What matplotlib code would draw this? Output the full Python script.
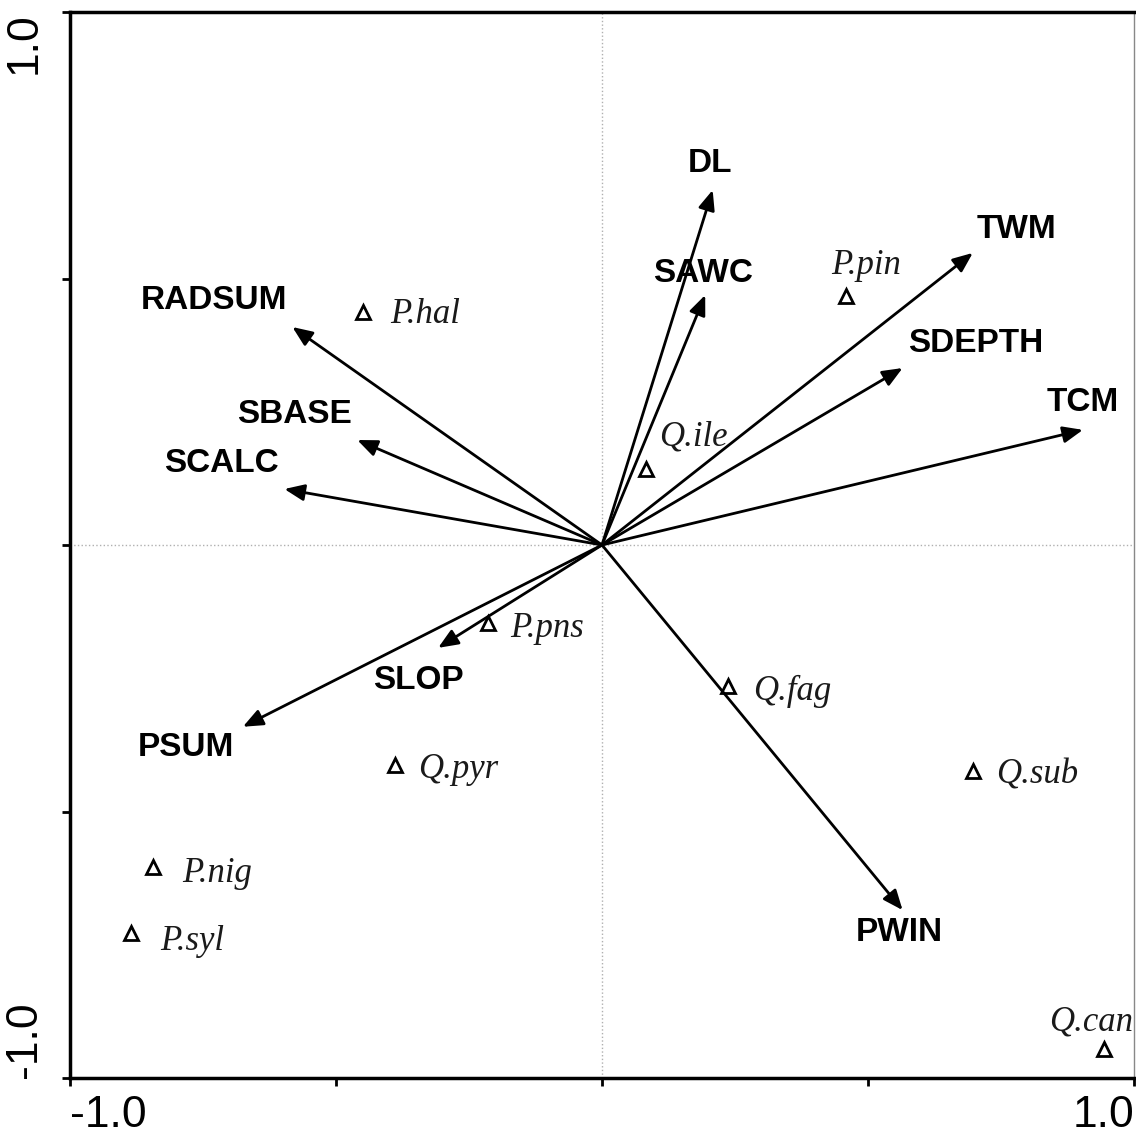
import matplotlib
matplotlib.use("Agg")
import matplotlib.pyplot as plt

# environmental variables (arrow tips)
env_names = ["DL", "SAWC", "TWM", "SDEPTH", "TCM", "PWIN",
             "RADSUM", "SBASE", "SCALC", "SLOP", "PSUM"]
env_x = [0.208, 0.194, 0.697, 0.565, 0.904, 0.565,
         -0.582, -0.460, -0.597, -0.308, -0.675]
env_y = [0.666, 0.469, 0.548, 0.332, 0.216, -0.685,
         0.409, 0.197, 0.105, -0.193, -0.341]

# species scores
sp_names = ["P.hal", "P.pin", "Q.ile", "P.pns", "Q.fag",
            "Q.pyr", "Q.sub", "P.nig", "P.syl", "Q.can"]
sp_x = [-0.450, 0.458, 0.082, -0.215, 0.236,
        -0.389, 0.697, -0.844, -0.885, 0.944]
sp_y = [0.437, 0.467, 0.143, -0.146, -0.265,
        -0.413, -0.424, -0.604, -0.728, -0.946]

# label offsets in pixels (dx right, dy up)
env_off = [(-3, 27), (-2, 22), (44, 23), (73, 25), (0, 27), (-3, -22),
           (-78, 27), (-63, 25), (-63, 26), (-20, -33), (-57, -21)]
sp_off = [(28, -2, "left"), (20, 31, "center"), (13, 32, "left"),
          (23, -6, "left"), (26, -5, "left"), (23, -4, "left"),
          (23, -4, "left"), (29, -7, "left"), (29, -8, "left"),
          (-13, 27, "center")]

fig = plt.figure(figsize=(11.36, 11.35), dpi=100)
ax = fig.add_axes([70 / 1136, 57 / 1135, 1064 / 1136, 1066 / 1135])
ax.set_xlim(-1, 1)
ax.set_ylim(-1, 1)

ax.axhline(0, color="#b0b0b0", lw=1, ls=":", zorder=0)
ax.axvline(0, color="#b0b0b0", lw=1, ls=":", zorder=0)

px = 0.72  # px -> points at 100 dpi
for name, x, y, (dx, dy) in zip(env_names, env_x, env_y, env_off):
    ax.annotate("", xy=(x, y), xytext=(0, 0),
                arrowprops=dict(arrowstyle="-|>,head_length=0.6,head_width=0.25",
                                color="black", lw=2, mutation_scale=20,
                                shrinkA=0, shrinkB=0))
    ax.annotate(name, xy=(x, y), xytext=(dx * px, dy * px),
                textcoords="offset points", ha="center", va="center",
                fontsize=24, fontweight="bold", family="Liberation Sans")

ax.plot(sp_x, sp_y, linestyle="none", marker="^", markersize=10,
        markerfacecolor="white", markeredgecolor="black", markeredgewidth=2)
for name, x, y, (dx, dy, ha) in zip(sp_names, sp_x, sp_y, sp_off):
    ax.annotate(name, xy=(x, y), xytext=(dx * px, dy * px),
                textcoords="offset points", ha=ha, va="center",
                fontsize=25, style="italic", family="Liberation Serif",
                color="#1a1a1a")

for s in ["left", "bottom", "top"]:
    ax.spines[s].set_linewidth(2.5)
ax.spines["right"].set_linewidth(1)
ax.spines["right"].set_color("#888888")

ticks = [-1, -0.5, 0, 0.5, 1]
ax.set_xticks(ticks)
ax.set_yticks(ticks)
ax.set_xticklabels(["-1.0", "", "", "", "1.0"], fontsize=32, family="Liberation Sans")
ax.set_yticklabels(["-1.0", "", "", "", "1.0"], fontsize=32, family="Liberation Sans",
                   rotation=90)
ax.tick_params(direction="out", length=6, width=2, pad=6)
ax.tick_params(axis="y", pad=12)
xl = ax.get_xticklabels()
xl[0].set_ha("left")
xl[-1].set_ha("right")
yl = ax.get_yticklabels()
yl[0].set_va("bottom")
yl[-1].set_va("top")

fig.savefig("out.png", dpi=100)
